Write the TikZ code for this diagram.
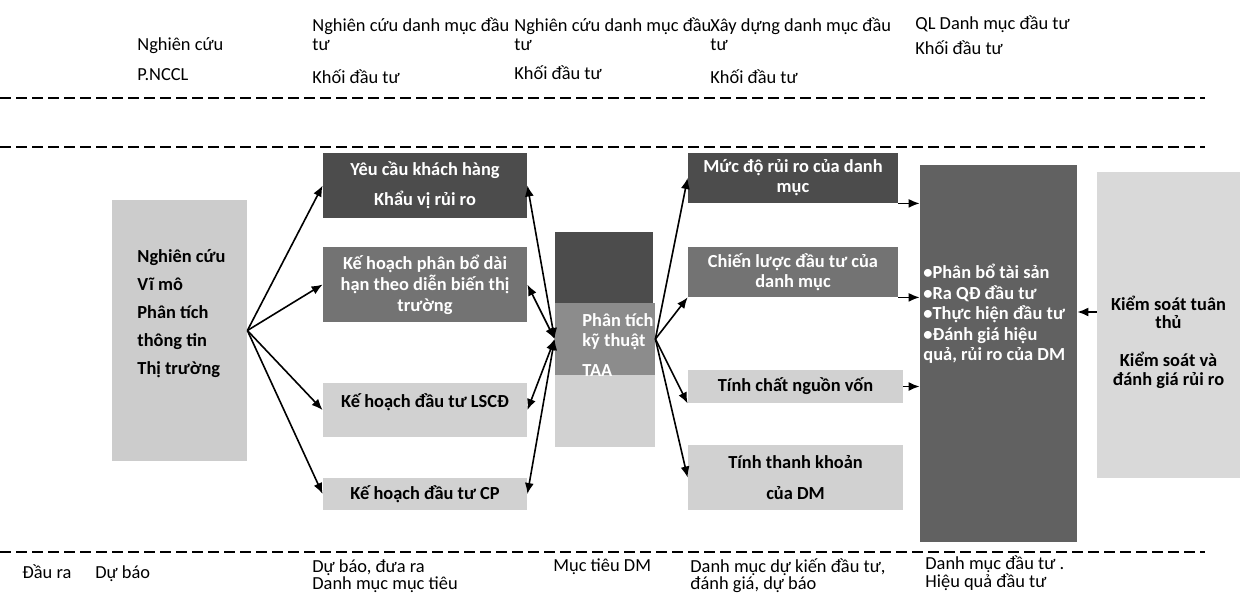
\documentclass[tikz,border=0pt]{standalone}
\usepackage{fontspec}
\setmainfont{Carlito}
\usetikzlibrary{arrows.meta,calc}
\definecolor{cdark}{gray}{0.30}
\definecolor{cmed}{gray}{0.45}
\definecolor{ctaam}{gray}{0.55}
\definecolor{cbig}{gray}{0.38}
\definecolor{clight}{gray}{0.82}
\definecolor{clb}{gray}{0.80}
\definecolor{cks}{gray}{0.85}
\begin{document}
\begin{tikzpicture}[x=0.5pt,y=-0.5pt,
  every node/.style={inner sep=0pt, font=\fontsize{9.2}{11}\selectfont},
  hdr/.style={anchor=base west, align=left},
  box/.style={rectangle, draw=none, align=center},
  wtxt/.style={text=white, font=\bfseries\fontsize{9.2}{#1}\selectfont},
  btxt/.style={text=black, font=\bfseries\fontsize{9.2}{#1}\selectfont},
  arr/.style={-{Latex[length=5.5pt,width=4.5pt]}, line width=0.8pt},
  darr/.style={{Latex[length=5.5pt,width=4.5pt]}-{Latex[length=5.5pt,width=4.5pt]}, line width=0.8pt},
  divider/.style={line width=1pt, dash pattern=on 5.5pt off 2.5pt}
]
\useasboundingbox (0,0) rectangle (1241,595);

% dividers
\draw[divider] (0,98) -- (1205,98);
\draw[divider] (0,147) -- (1205,147);
\draw[divider] (0,552) -- (1205,552);

% header
\node[hdr] (h1a) at (137,50) {Nghiên cứu};
\node[hdr] (h1b) at (137,80) {P.NCCL};
\node[hdr] (h2a) at (312,31) {Nghiên cứu danh mục đầu};
\node[hdr] (h2b) at (312,50) {tư};
\node[hdr] (h2c) at (312,83) {Khối đầu tư};
\node[hdr] (h3a) at (514,31) {Nghiên cứu danh mục đầu};
\node[hdr] (h3b) at (514,50) {tư};
\node[hdr] (h3c) at (514,79) {Khối đầu tư};
\node[hdr] (h4a) at (710,31) {Xây dựng danh mục đầu};
\node[hdr] (h4b) at (710,50) {tư};
\node[hdr] (h4c) at (710,83) {Khối đầu tư};
\node[hdr] (h5a) at (915,29) {QL Danh mục đầu tư};
\node[hdr] (h5b) at (915,54) {Khối đầu tư};

% footer
\node[hdr] (f1) at (22,578) {Đầu ra};
\node[hdr] (f2) at (95,578) {Dự báo};
\node[hdr] (f3a) at (312,572) {Dự báo, đưa ra};
\node[hdr] (f3b) at (312,589) {Danh mục mục tiêu};
\node[hdr] (f4) at (553,571) {Mục tiêu DM};
\node[hdr] (f5a) at (690,572) {Danh mục dự kiến đầu tư,};
\node[hdr] (f5b) at (690,589) {đánh giá, dự báo};
\node[hdr] (f6a) at (925,569) {Danh mục đầu tư .};
\node[hdr] (f6b) at (925,587) {Hiệu quả đầu tư};

% left box
\node[box, fill=clb, minimum width=67.5pt, minimum height=130.5pt] (lb) at (179.5,330.5) {};
\node[btxt=14pt, anchor=west, align=left] (lbt) at (137,314) {Nghiên cứu\\Vĩ mô\\Phân tích\\thông tin\\Thị trường};

% second column
\node[box, fill=cdark, minimum width=102pt, minimum height=32.5pt, wtxt=15pt] (yc) at (425,185.5) {Yêu cầu khách hàng\\Khẩu vị rủi ro};
\node[box, fill=cmed, minimum width=102pt, minimum height=37.5pt, wtxt=10.5pt] (kp) at (425,284.5) {Kế hoạch phân bổ dài\\hạn theo diễn biến thị\\trường};
\node[box, fill=clight, minimum width=102pt, minimum height=27pt] (ls) at (425,410) {};
\node[btxt=11pt] (lst) at (425,402) {Kế hoạch đầu tư LSCĐ};
\node[box, fill=clight, minimum width=102pt, minimum height=16pt, btxt=11pt] (cp) at (425,494) {Kế hoạch đầu tư CP};

% TAA column
\node[box, fill=cdark, minimum width=49pt, minimum height=35.5pt] (taa1) at (604,267.5) {};
\node[box, fill=ctaam, minimum width=50pt, minimum height=36pt] (taa2) at (605,339) {};
\node[box, fill=clight, minimum width=50pt, minimum height=36pt] (taa3) at (605,411) {};
\node[wtxt=10pt, anchor=west, align=left] (taat) at (582,345) {Phân tích\\kỹ thuật\\[5pt]TAA};

% fourth column
\node[box, fill=cdark, minimum width=105pt, minimum height=25pt, wtxt=10pt] (md) at (793,178) {Mức độ rủi ro của danh\\mục};
\node[box, fill=cmed, minimum width=105pt, minimum height=25pt, wtxt=10pt] (cl) at (793,272) {Chiến lược đầu tư của\\danh mục};
\node[box, fill=clight, minimum width=107.5pt, minimum height=16.5pt, btxt=11pt] (tc) at (795.5,386.5) {Tính chất nguồn vốn};
\node[box, fill=clight, minimum width=107.5pt, minimum height=32.5pt, btxt=15.5pt] (tk) at (795.5,477.5) {Tính thanh khoản\\của DM};

% big box
\node[box, fill=cbig, minimum width=78.5pt, minimum height=188.5pt] (big) at (998.5,353.5) {};
\node[wtxt=10.3pt, anchor=west, align=left] (bigt) at (923,314) {•Phân bổ tài sản\\•Ra QĐ đầu tư\\•Thực hiện đầu tư\\•Đánh giá hiệu\\quả, rủi ro của DM};

% right box
\node[box, fill=cks, minimum width=71.5pt, minimum height=153pt] (ks) at (1168.5,325) {};
\node[btxt=9.2pt, align=center] (kst) at (1168.5,342) {Kiểm soát tuân\\thủ\\[10pt]Kiểm soát và\\đánh giá rủi ro};

% connectors
\draw[arr] (lb.east) -- (yc.west);
\draw[arr] (lb.east) -- (kp.west);
\draw[arr] (lb.east) -- (ls.west);
\draw[arr] (lb.east) -- (cp.west);

\draw[darr] (yc.east) -- (taa2.west);
\draw[darr] (kp.east) -- (taa2.west);
\draw[darr] (ls.east) -- (taa2.west);
\draw[darr] (cp.east) -- (taa2.west);

\draw[arr] (taa2.east) -- (md.west);
\draw[arr] (taa2.east) -- (cl.south west);
\draw[arr] (taa2.east) -- (tc.south west);
\draw[arr] (taa2.east) -- (tk.west);

\draw[arr] (md.south east) -- (md.south east -| big.west);
\draw[arr] (cl.south east) -- (cl.south east -| big.west);
\draw[arr] (tc.east) -- (tc.east -| big.west);

\coordinate (ksa) at ($(ks.west)+(0,-13)$);
\draw[arr] (ksa) -- (ksa -| big.east);
\end{tikzpicture}
\end{document}
